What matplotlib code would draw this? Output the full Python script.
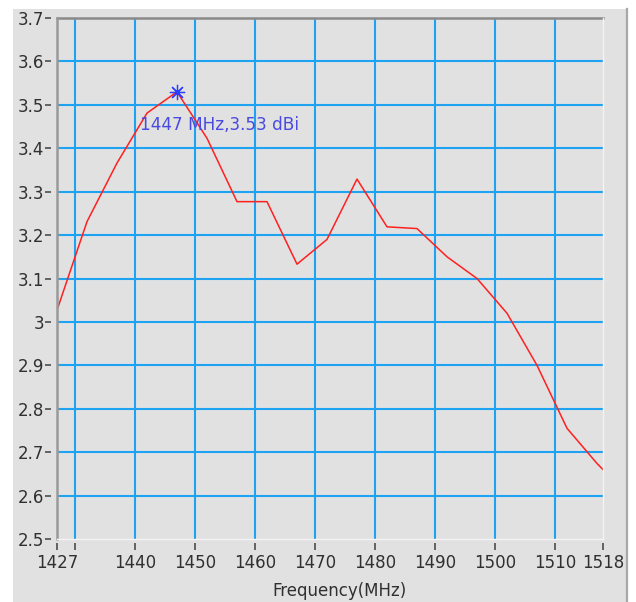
import matplotlib
matplotlib.use("Agg")
import matplotlib.pyplot as plt
from matplotlib.patches import Rectangle
from matplotlib.lines import Line2D

FREQ_MHZ = [1427, 1432, 1437, 1442, 1447, 1452, 1457, 1462, 1467, 1472,
            1477, 1482, 1487, 1492, 1497, 1502, 1507, 1512, 1517, 1518]
GAIN_DBI = [3.027, 3.231, 3.366, 3.481, 3.530, 3.423, 3.277, 3.277, 3.133, 3.190,
            3.329, 3.219, 3.215, 3.150, 3.100, 3.020, 2.900, 2.755, 2.674, 2.660]

PEAK_FREQ = 1447
PEAK_GAIN = 3.53
PEAK_LABEL = "1447 MHz,3.53 dBi"

X_TICKS = [1427, 1430, 1440, 1450, 1460, 1470, 1480, 1490, 1500, 1510, 1518]
X_TICK_LABELS = ["1427", "", "1440", "1450", "1460", "1470", "1480", "1490", "1500", "1510", "1518"]
X_GRID = [1430, 1440, 1450, 1460, 1470, 1480, 1490, 1500, 1510]
Y_TICKS = [2.5, 2.6, 2.7, 2.8, 2.9, 3.0, 3.1, 3.2, 3.3, 3.4, 3.5, 3.6, 3.7]
X_LABEL = "Frequency(MHz)"

PANEL = "#e1e1e1"
GRID = "#1ea2f2"
TEXT = "#303030"

W, H = 636, 602
fig = plt.figure(figsize=(W / 100, H / 100), dpi=100, facecolor="white")

# grey window panel behind the plot
fig.patches.append(Rectangle((13 / W, 0), (626 - 13) / W, (H - 9) / H,
                             transform=fig.transFigure, facecolor=PANEL,
                             edgecolor="none", zorder=-2))
fig.lines.append(Line2D([627 / W, 627 / W], [0, (H - 9) / H], transform=fig.transFigure,
                        color="#a8a8a8", linewidth=1.6, zorder=-1))

ax = fig.add_axes([57 / W, (H - 539) / H, 546 / W, 521 / H])
ax.set_zorder(2)
ax.set_facecolor(PANEL)

ax.set_xlim(X_TICKS[0], X_TICKS[-1])
ax.set_ylim(Y_TICKS[0], Y_TICKS[-1])

for x in X_GRID:
    ax.axvline(x, color=GRID, linewidth=1.5, zorder=1)
for y in Y_TICKS[1:-1]:
    ax.axhline(y, color=GRID, linewidth=1.5, zorder=1)

ax.plot(FREQ_MHZ, GAIN_DBI, color="#ff2020", linewidth=1.1, zorder=3)
ax.plot([PEAK_FREQ], [PEAK_GAIN], linestyle="none", marker=(8, 2, 0), markersize=11,
        markeredgewidth=0.9, color="#2a3cff", zorder=4)
ax.text(PEAK_FREQ - 6.2, PEAK_GAIN - 0.077, PEAK_LABEL, color="#4a4ae0",
        fontsize=12.2, ha="left", va="center", zorder=5)

for side in ["top", "right", "bottom", "left"]:
    ax.spines[side].set_visible(False)
ax.spines["bottom"].set_position(("outward", 3))
ax.spines["left"].set_position(("outward", 4))

# sunken border: dark top/left, light bottom/right
ax.add_line(Line2D([0, 1], [1, 1], transform=ax.transAxes, color="#8a8a8a",
                   linewidth=1.8, clip_on=False, zorder=6))
ax.add_line(Line2D([0, 0], [0, 1], transform=ax.transAxes, color="#9a9a9a",
                   linewidth=1.8, clip_on=False, zorder=6))
ax.add_line(Line2D([1, 1], [0, 1], transform=ax.transAxes, color="#f4f4f4",
                   linewidth=1.0, clip_on=False, zorder=6))
ax.add_line(Line2D([0, 1], [0, 0], transform=ax.transAxes, color="#f4f4f4",
                   linewidth=1.0, clip_on=False, zorder=6))

ax.set_xticks(X_TICKS)
ax.set_xticklabels(X_TICK_LABELS)
ax.set_yticks(Y_TICKS)
ax.set_yticklabels([f"{v:g}" for v in Y_TICKS])
ax.tick_params(axis="x", direction="out", length=5, width=1.1, color="#404040",
               labelsize=12, labelcolor=TEXT, pad=3)
ax.tick_params(axis="y", direction="out", length=4, width=1.1, color="#404040",
               labelsize=12, labelcolor=TEXT, pad=1)

ax.set_xlabel(X_LABEL, fontsize=12, color=TEXT)
ax.xaxis.set_label_coords((339 - 57) / 546, -0.083)
ax.xaxis.label.set_va("top")

fig.savefig("out.png", dpi=100, facecolor=fig.get_facecolor())
